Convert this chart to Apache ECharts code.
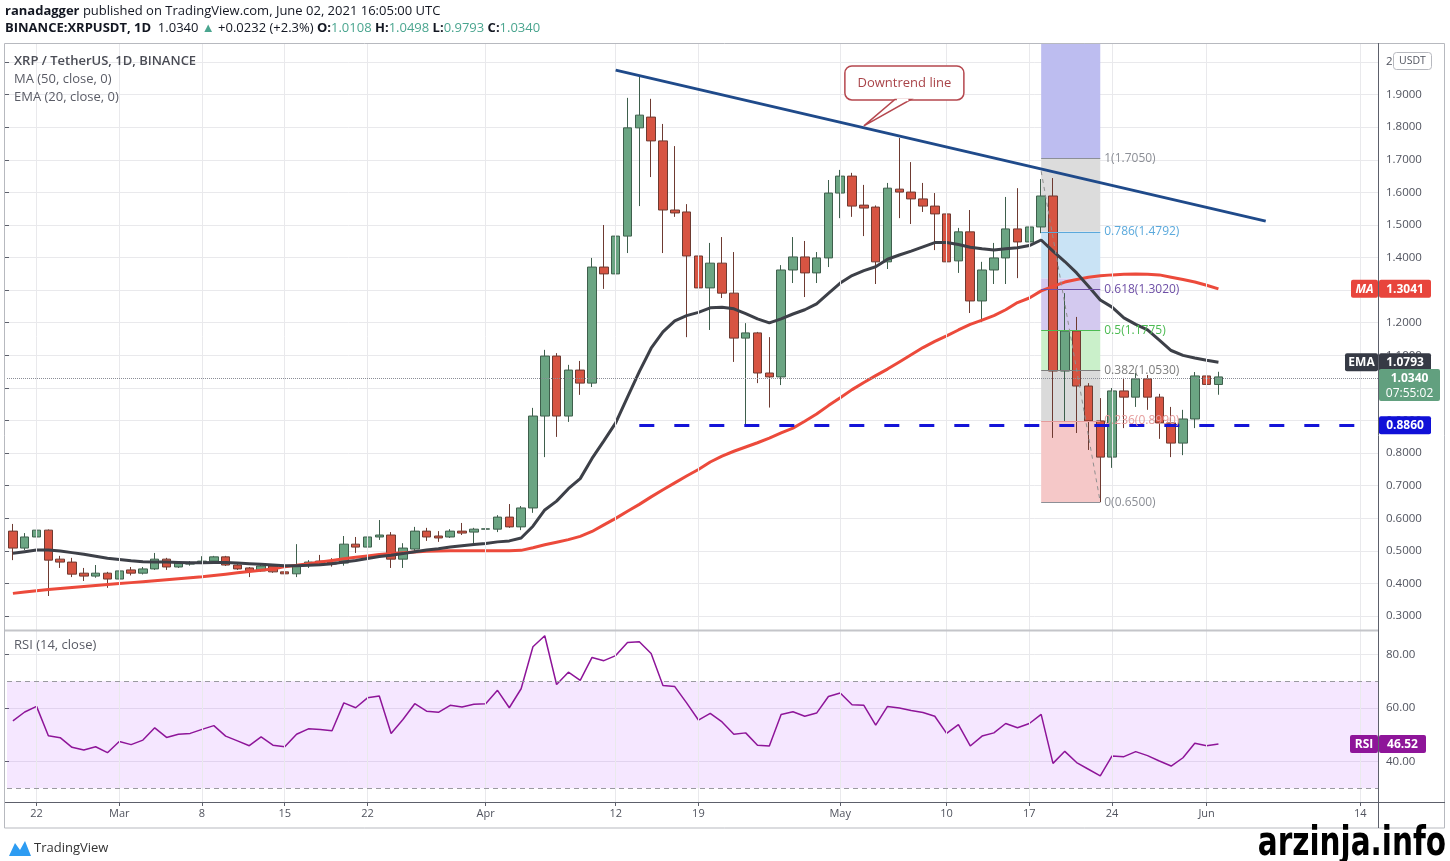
<!DOCTYPE html>
<html>
<head>
<meta charset="utf-8">
<title>XRP / TetherUS, 1D, BINANCE</title>
<script src="https://cdn.jsdelivr.net/npm/echarts@6.0.0/dist/echarts.min.js"></script>
<style>
    html, body { margin: 0; padding: 0; background: #fff; }
    #xrp { width: 1450px; height: 861px; }
</style>
</head>
<body>
<div id="xrp"></div>
<script>
// daily categories, Feb 20 .. Jun 15 2021
var dates = [];
var day0 = Date.UTC(2021, 1, 20);
for (var k = 0; k < 116; k++) {
    dates.push(new Date(day0 + k * 86400000).toISOString().slice(0, 10));
}

var tickDates = ['2021-02-22', '2021-03-01', '2021-03-08', '2021-03-15', '2021-03-22', '2021-04-01', '2021-04-12',
    '2021-04-19', '2021-05-01', '2021-05-10', '2021-05-17', '2021-05-24', '2021-06-01', '2021-06-14'];
var tickLabels = ['22', 'Mar', '8', '15', '22', 'Apr', '12', '19', 'May', '10', '17', '24', 'Jun', '14'];

// [open, close, low, high]
var candles = [
    [0.561, 0.509, 0.472, 0.583], [0.509, 0.543, 0.503, 0.555], [0.543, 0.564, 0.540, 0.650], [0.564, 0.472, 0.362, 0.566],
    [0.475, 0.466, 0.448, 0.485], [0.466, 0.429, 0.420, 0.479], [0.432, 0.423, 0.408, 0.448], [0.423, 0.432, 0.418, 0.457],
    [0.432, 0.414, 0.387, 0.436],
    [0.414, 0.439, 0.410, 0.451], [0.442, 0.432, 0.425, 0.451], [0.432, 0.445, 0.428, 0.451], [0.445, 0.475, 0.442, 0.494],
    [0.475, 0.451, 0.442, 0.479], [0.451, 0.463, 0.448, 0.466], [0.460, 0.461, 0.455, 0.469],
    [0.463, 0.469, 0.460, 0.484], [0.469, 0.482, 0.466, 0.485], [0.482, 0.457, 0.454, 0.485], [0.457, 0.445, 0.442, 0.460],
    [0.448, 0.439, 0.420, 0.451], [0.439, 0.454, 0.436, 0.463], [0.454, 0.436, 0.433, 0.457],
    [0.436, 0.430, 0.420, 0.445], [0.430, 0.454, 0.420, 0.521], [0.457, 0.466, 0.448, 0.472], [0.469, 0.463, 0.455, 0.488],
    [0.466, 0.460, 0.452, 0.478], [0.463, 0.521, 0.455, 0.546], [0.521, 0.512, 0.494, 0.543],
    [0.512, 0.543, 0.497, 0.595], [0.543, 0.549, 0.534, 0.595], [0.549, 0.475, 0.448, 0.558], [0.475, 0.509, 0.448, 0.524],
    [0.506, 0.561, 0.500, 0.574], [0.561, 0.543, 0.531, 0.571], [0.546, 0.540, 0.528, 0.561],
    [0.543, 0.561, 0.540, 0.567], [0.561, 0.555, 0.549, 0.586], [0.558, 0.567, 0.524, 0.571],
    [0.567, 0.568, 0.543, 0.595], [0.567, 0.604, 0.558, 0.610], [0.604, 0.574, 0.571, 0.644], [0.574, 0.632, 0.564, 0.638],
    [0.632, 0.914, 0.617, 0.939], [0.914, 1.098, 0.788, 1.117], [1.098, 0.914, 0.850, 1.107], [0.914, 1.055, 0.896, 1.071],
    [1.055, 1.015, 0.979, 1.083], [1.015, 1.371, 1.003, 1.399], [1.371, 1.350, 1.304, 1.500],
    [1.350, 1.466, 1.313, 1.470], [1.466, 1.798, 1.414, 1.890], [1.798, 1.837, 1.558, 1.960], [1.831, 1.758, 1.647, 1.887],
    [1.758, 1.546, 1.414, 1.810], [1.546, 1.537, 1.525, 1.742], [1.540, 1.405, 1.156, 1.564],
    [1.405, 1.307, 1.248, 1.537], [1.307, 1.383, 1.178, 1.445], [1.383, 1.291, 1.276, 1.463], [1.291, 1.153, 1.080, 1.417],
    [1.153, 1.169, 0.886, 1.199], [1.169, 1.046, 1.015, 1.172], [1.046, 1.034, 0.940, 1.156],
    [1.034, 1.362, 1.009, 1.377], [1.362, 1.402, 1.322, 1.463], [1.402, 1.353, 1.279, 1.451], [1.353, 1.399, 1.322, 1.417],
    [1.399, 1.598, 1.371, 1.638],
    [1.598, 1.650, 1.521, 1.669], [1.650, 1.558, 1.525, 1.660], [1.561, 1.552, 1.466, 1.623], [1.555, 1.387, 1.319, 1.560],
    [1.387, 1.613, 1.365, 1.629], [1.610, 1.601, 1.521, 1.767], [1.601, 1.580, 1.503, 1.693], [1.580, 1.558, 1.540, 1.629],
    [1.558, 1.534, 1.423, 1.598],
    [1.534, 1.387, 1.212, 1.626], [1.390, 1.479, 1.353, 1.491], [1.479, 1.267, 1.230, 1.546], [1.267, 1.362, 1.202, 1.387],
    [1.362, 1.399, 1.319, 1.445], [1.399, 1.488, 1.319, 1.586], [1.488, 1.448, 1.337, 1.613],
    [1.448, 1.494, 1.322, 1.564], [1.494, 1.589, 1.475, 1.641], [1.589, 1.052, 0.847, 1.644], [1.052, 1.175, 0.896, 1.291],
    [1.175, 1.006, 0.862, 1.218], [1.006, 0.899, 0.810, 1.015], [0.899, 0.788, 0.650, 0.969],
    [0.788, 0.991, 0.755, 1.000], [0.991, 0.972, 0.877, 1.031], [0.972, 1.028, 0.942, 1.046], [1.028, 0.972, 0.933, 1.040],
    [0.972, 0.893, 0.844, 0.982], [0.893, 0.831, 0.788, 0.942], [0.831, 0.905, 0.794, 0.933], [0.905, 1.037, 0.877, 1.049],
    [1.037, 1.011, 0.972, 1.101], [1.0108, 1.0340, 0.9793, 1.0498]
];

var ma50 = [
    0.370, 0.374, 0.378, 0.382, 0.385, 0.388, 0.391, 0.394, 0.397,
    0.400, 0.403, 0.406, 0.409, 0.412, 0.415, 0.418,
    0.421, 0.425, 0.429, 0.433, 0.437, 0.441, 0.445,
    0.452, 0.456, 0.461, 0.466, 0.471, 0.476, 0.481,
    0.485, 0.489, 0.492, 0.495, 0.497, 0.499, 0.500,
    0.501, 0.501, 0.501,
    0.501, 0.501, 0.501, 0.502,
    0.510, 0.519, 0.527, 0.535, 0.545, 0.560, 0.580,
    0.600, 0.622, 0.643, 0.666, 0.688, 0.709, 0.730,
    0.750, 0.773, 0.791, 0.806, 0.819, 0.832, 0.846,
    0.862, 0.877, 0.898, 0.920, 0.946,
    0.970, 0.995, 1.017, 1.038, 1.058, 1.080, 1.102, 1.124, 1.143,
    1.160, 1.178, 1.195, 1.208, 1.222, 1.240, 1.262,
    1.276, 1.298, 1.312, 1.325, 1.333, 1.340, 1.344,
    1.347, 1.349, 1.350, 1.349, 1.347, 1.340, 1.333, 1.325,
    1.315, 1.3041
];

var ema20 = [
    0.493, 0.498, 0.503, 0.503, 0.500, 0.495, 0.490, 0.484, 0.478,
    0.474, 0.470, 0.467, 0.466, 0.466, 0.465, 0.464,
    0.464, 0.465, 0.465, 0.463, 0.461, 0.459, 0.457,
    0.455, 0.455, 0.456, 0.458, 0.461, 0.466, 0.471,
    0.477, 0.483, 0.487, 0.492, 0.498, 0.503, 0.507,
    0.512, 0.516, 0.520,
    0.523, 0.528, 0.531, 0.540,
    0.576, 0.626, 0.653, 0.691, 0.722, 0.784, 0.838,
    0.893, 0.972, 1.050, 1.122, 1.172, 1.206, 1.222,
    1.232, 1.246, 1.248, 1.243, 1.228, 1.212, 1.200,
    1.212, 1.227, 1.240, 1.258, 1.290,
    1.322, 1.345, 1.360, 1.372, 1.395, 1.408, 1.420, 1.433, 1.446,
    1.446, 1.440, 1.432, 1.427, 1.423, 1.427, 1.430,
    1.437, 1.454, 1.420, 1.388, 1.353, 1.312, 1.270,
    1.248, 1.215, 1.195, 1.178, 1.147, 1.115, 1.100, 1.092,
    1.085, 1.0793
];

var rsi14 = [
    55.2, 58.5, 60.6, 49.6, 48.9, 45.3, 44.3, 45.5, 43.3,
    47.5, 46.3, 48.0, 52.6, 49.0, 50.2, 50.5,
    52.0, 53.4, 49.5, 47.7, 45.9, 49.2, 46.1,
    45.5, 50.2, 52.2, 52.0, 51.5, 61.9, 60.1,
    63.8, 64.5, 50.5, 55.7, 61.6, 58.8, 58.4,
    61.0, 60.4, 61.4,
    61.6, 66.6, 60.1, 67.2,
    82.9, 87.0, 68.8, 73.4, 70.3, 78.9, 77.7,
    79.6, 84.5, 84.8, 80.4, 68.4, 68.0, 61.9,
    55.5, 58.0, 54.8, 50.2, 50.7, 46.1, 45.8,
    57.6, 58.6, 56.9, 58.1, 64.3,
    65.6, 61.2, 61.0, 53.6, 60.6, 60.0, 59.1, 58.3, 56.9,
    50.5, 53.8, 45.8, 49.5, 50.7, 54.2, 52.6,
    54.2, 57.6, 39.3, 43.8, 39.6, 37.1, 34.6,
    42.1, 41.8, 43.7, 42.2, 40.2, 38.3, 41.4, 46.8,
    45.9, 46.52
];

// fibonacci retracement drawn from May 18 to May 23
var fibFrom = '2021-05-18';
var fibTo = '2021-05-23';
var fibRatios = ['1', '0.786', '0.618', '0.5', '0.382', '0.236', '0'];
var fibPrices = [1.7050, 1.4792, 1.3020, 1.1775, 1.0530, 0.8990, 0.6500];
var fibBandEdges = [2.0583, 1.7050, 1.4792, 1.3358, 1.1775, 1.0530, 0.8990, 0.6500];
var fibSwing = [['2021-05-18', 1.665], ['2021-05-23', 0.650]];

var trendLine = [['2021-04-12', 1.975], ['2021-06-06', 1.512]];
var calloutAt = ['2021-05-03', 1.804];
var supportPrice = 0.8860;
var supportFrom = '2021-04-14';
var lastPrice = 1.0340;

// axis ranges (the data axes are calibrated to the panel pixels)
var priceAxisMin = 0.25767, priceAxisMax = 2.05828;
var rsiAxisMin = 24.86, rsiAxisMax = 88.785;

var uiFont = "'Open Sans', 'Noto Sans', sans-serif";
var upColor = '#6ba583', downColor = '#d75442';

function pickTick(index, value) {
    return tickDates.indexOf(value) > -1;
}

function gridLineMarks() {
    return tickDates.map(function(d) {
        return {xAxis: d};
    });
}

function drawXrp() {
    var dom = document.getElementById("xrp");
    var myChart = echarts.init(dom);
    var option = null;

    var fibLineColors = ['#8c8f96', '#5aa9dc', '#6e4fa6', '#4cbb52', '#7d7d7d', '#e59b9b', '#8c8f96'];
    var fibBandColors = ['#bdbdf0', '#dcdcdc', '#c9e3f5', '#d3c9ef', '#caf0ca', '#dadada', '#f5c8c8'];

    var fibAreas = [];
    for (var i = 0; i < fibBandEdges.length - 1; i++) {
        fibAreas.push([
            {coord: [fibFrom, fibBandEdges[i]], itemStyle: {color: fibBandColors[i]}},
            {coord: [fibTo, fibBandEdges[i + 1]]}
        ]);
    }

    var fibLines = fibPrices.map(function(p, i) {
        return [
            {
                coord: [fibFrom, p],
                lineStyle: {color: fibLineColors[i], width: 1, type: 'solid'},
                label: {
                    show: true,
                    position: 'end',
                    distance: 4,
                    formatter: fibRatios[i] + '(' + p.toFixed(4) + ')',
                    color: fibLineColors[i],
                    fontSize: 12,
                    fontFamily: uiFont
                }
            },
            {coord: [fibTo, p]}
        ];
    });
    fibLines.push([
        {coord: fibSwing[0], lineStyle: {color: '#8f8f8f', width: 1, type: [4, 4]}},
        {coord: fibSwing[1]}
    ]);

    option = {
        animation: false,
        backgroundColor: '#fff',
        grid: [
            {left: 7, right: 72, top: 43, height: 587, outerBoundsMode: 'none'},
            {left: 5, right: 72, top: 62, height: 554, outerBoundsMode: 'none'},
            {left: 7, right: 72, top: 631, height: 171, outerBoundsMode: 'none'},
            {left: 5, right: 72, top: 654.5, height: 107, outerBoundsMode: 'none'}
        ],
        xAxis: [
            {type: 'category', gridIndex: 0, data: dates, boundaryGap: true, show: false},
            {type: 'value', gridIndex: 1, min: 0, max: 1, show: false},
            {
                type: 'category',
                gridIndex: 2,
                data: dates,
                boundaryGap: true,
                axisLine: {show: false},
                axisTick: {
                    show: true,
                    alignWithLabel: true,
                    interval: pickTick,
                    length: 4,
                    lineStyle: {color: '#5d606b'}
                },
                axisLabel: {
                    interval: pickTick,
                    formatter: function(v) {
                        return tickLabels[tickDates.indexOf(v)];
                    },
                    color: '#50535e',
                    fontSize: 11,
                    fontFamily: uiFont,
                    margin: 6
                },
                splitLine: {show: false}
            },
            {type: 'value', gridIndex: 3, min: 0, max: 1, show: false}
        ],
        yAxis: [
            {type: 'value', gridIndex: 0, min: priceAxisMin, max: priceAxisMax, show: false},
            {
                type: 'value',
                gridIndex: 1,
                position: 'right',
                min: 0.3,
                max: 2.0,
                interval: 0.1,
                axisLine: {show: false},
                axisTick: {show: true, length: 4, lineStyle: {color: '#5d606b'}},
                axisLabel: {
                    color: '#50535e',
                    fontSize: 11.5,
                    fontFamily: uiFont,
                    margin: 8,
                    formatter: function(v) {
                        return Math.abs(v - 2) < 1e-9 ? '2' : v.toFixed(4);
                    }
                },
                splitLine: {show: true, lineStyle: {color: '#e9e9ec', width: 1}}
            },
            {type: 'value', gridIndex: 2, min: rsiAxisMin, max: rsiAxisMax, show: false},
            {
                type: 'value',
                gridIndex: 3,
                position: 'right',
                min: 40,
                max: 80,
                interval: 20,
                axisLine: {show: false},
                axisTick: {show: true, length: 4, lineStyle: {color: '#5d606b'}},
                axisLabel: {
                    color: '#50535e',
                    fontSize: 11.5,
                    fontFamily: uiFont,
                    margin: 8,
                    formatter: function(v) {
                        return v.toFixed(2);
                    }
                },
                splitLine: {show: true, lineStyle: {color: '#e9e9ec', width: 1}}
            }
        ],
        series: [
            {
                // vertical grid + fib retracement, under the candles
                name: 'fib',
                type: 'line',
                xAxisIndex: 0,
                yAxisIndex: 0,
                data: [],
                silent: true,
                z: 1,
                markArea: {silent: true, data: fibAreas},
                markLine: {
                    silent: true,
                    symbol: ['none', 'none'],
                    label: {show: false},
                    lineStyle: {color: '#e9e9ec', width: 1, type: 'solid'},
                    data: gridLineMarks().concat(fibLines)
                }
            },
            {
                name: 'XRPUSDT',
                type: 'candlestick',
                xAxisIndex: 0,
                yAxisIndex: 0,
                data: candles,
                barWidth: 9,
                z: 3,
                itemStyle: {
                    color: upColor,
                    color0: downColor,
                    borderColor: '#3e5f4c',
                    borderColor0: '#6e3a31',
                    borderWidth: 1
                }
            },
            {
                name: 'MA (50, close, 0)',
                type: 'line',
                xAxisIndex: 0,
                yAxisIndex: 0,
                data: ma50,
                showSymbol: false,
                z: 4,
                lineStyle: {color: '#ec4a3b', width: 3}
            },
            {
                name: 'EMA (20, close, 0)',
                type: 'line',
                xAxisIndex: 0,
                yAxisIndex: 0,
                data: ema20,
                showSymbol: false,
                z: 4,
                lineStyle: {color: '#3d4048', width: 3}
            },
            {
                // drawings on top
                name: 'drawings',
                type: 'line',
                xAxisIndex: 0,
                yAxisIndex: 0,
                data: [],
                silent: true,
                z: 5,
                markLine: {
                    silent: true,
                    symbol: ['none', 'none'],
                    label: {show: false},
                    data: [
                        {yAxis: lastPrice, lineStyle: {color: '#8a8d96', width: 1, type: 'dotted'}},
                        [
                            {coord: [supportFrom, supportPrice], lineStyle: {color: '#1414d8', width: 3, type: [15, 20]}},
                            {coord: [dates[dates.length - 1], supportPrice]}
                        ],
                        [
                            {coord: trendLine[0], lineStyle: {color: '#1f4a8a', width: 3, type: 'solid'}},
                            {coord: trendLine[1]}
                        ]
                    ]
                }
            },
            {
                name: 'rsi band',
                type: 'line',
                xAxisIndex: 2,
                yAxisIndex: 2,
                data: [],
                silent: true,
                z: 1,
                markArea: {
                    silent: true,
                    itemStyle: {color: 'rgba(153, 21, 255, 0.1)'},
                    data: [[{yAxis: 30}, {yAxis: 70}]]
                },
                markLine: {
                    silent: true,
                    symbol: ['none', 'none'],
                    label: {show: false},
                    lineStyle: {color: '#e9e9ec', width: 1, type: 'solid'},
                    data: gridLineMarks().concat([
                        {yAxis: 70, lineStyle: {color: '#9a9aa0', width: 1, type: [5, 4]}},
                        {yAxis: 30, lineStyle: {color: '#9a9aa0', width: 1, type: [5, 4]}}
                    ])
                }
            },
            {
                name: 'RSI (14, close)',
                type: 'line',
                xAxisIndex: 2,
                yAxisIndex: 2,
                data: rsi14,
                showSymbol: false,
                z: 3,
                lineStyle: {color: '#8e1599', width: 1.5}
            }
        ]
    };
    myChart.setOption(option);

    // overlay: header, frame, axis badges, callout
    var yMA = myChart.convertToPixel({yAxisIndex: 0}, ma50[ma50.length - 1]);
    var yEMA = myChart.convertToPixel({yAxisIndex: 0}, ema20[ema20.length - 1]);
    var yLast = myChart.convertToPixel({yAxisIndex: 0}, lastPrice);
    var ySup = myChart.convertToPixel({yAxisIndex: 0}, supportPrice);
    var yRsi = myChart.convertToPixel({yAxisIndex: 2}, rsi14[rsi14.length - 1]);
    var tip = myChart.convertToPixel({seriesIndex: 1}, [dates.indexOf(calloutAt[0]), calloutAt[1]]);

    var boldFont = 'bold 12px ' + uiFont;
    function badge(x, y, w, h, fill, text, font) {
        return [
            {type: 'rect', z: 100, shape: {x: x, y: y - h / 2, width: w, height: h, r: 2}, style: {fill: fill}},
            {
                type: 'text', z: 101, x: x + w / 2, y: y + 0.5,
                style: {text: text, fill: '#fff', align: 'center', verticalAlign: 'middle', font: font || boldFont}
            }
        ];
    }

    var els = [
        // frame
        {type: 'rect', z: 90, shape: {x: 4.5, y: 43.5, width: 1440, height: 784.5}, style: {fill: 'none', stroke: '#b7b9bf', lineWidth: 1}},
        {type: 'line', z: 90, shape: {x1: 5, y1: 630.5, x2: 1378, y2: 630.5}, style: {stroke: '#c4c5c9', lineWidth: 2}},
        {type: 'line', z: 90, shape: {x1: 1378.5, y1: 43, x2: 1378.5, y2: 828}, style: {stroke: '#5d606b', lineWidth: 1}},
        {type: 'line', z: 90, shape: {x1: 5, y1: 802.5, x2: 1445, y2: 802.5}, style: {stroke: '#5d606b', lineWidth: 1}},
        // header
        {
            type: 'text', z: 100, x: 5, y: 11,
            style: {
                text: '{b|ranadagger} published on TradingView.com, June 02, 2021 16:05:00 UTC',
                verticalAlign: 'middle', fill: '#131722', font: '13px ' + uiFont,
                rich: {b: {fontWeight: 'bold', fontSize: 13, fontFamily: uiFont, fill: '#131722'}}
            }
        },
        {
            type: 'text', z: 100, x: 5, y: 28,
            style: {
                text: '{b|BINANCE:XRPUSDT, 1D}  1.0340 {g|▲} +0.0232 (+2.3%) {b|O:}{g|1.0108} {b|H:}{g|1.0498} {b|L:}{g|0.9793} {b|C:}{g|1.0340}',
                verticalAlign: 'middle', fill: '#131722', font: '13px ' + uiFont,
                rich: {
                    b: {fontWeight: 'bold', fontSize: 13, fontFamily: uiFont, fill: '#131722'},
                    g: {fontSize: 13, fontFamily: uiFont, fill: '#4aa58f'}
                }
            }
        },
        // pane legends
        {type: 'text', z: 100, x: 14, y: 61, style: {text: 'XRP / TetherUS, 1D, BINANCE', verticalAlign: 'middle', fill: '#4a4c55', font: '600 13px ' + uiFont}},
        {type: 'text', z: 100, x: 14, y: 79, style: {text: 'MA (50, close, 0)', verticalAlign: 'middle', fill: '#5a5c66', font: '13px ' + uiFont}},
        {type: 'text', z: 100, x: 14, y: 97, style: {text: 'EMA (20, close, 0)', verticalAlign: 'middle', fill: '#5a5c66', font: '13px ' + uiFont}},
        {type: 'text', z: 100, x: 14, y: 645, style: {text: 'RSI (14, close)', verticalAlign: 'middle', fill: '#5a5c66', font: '13px ' + uiFont}},
        // USDT unit box
        {type: 'rect', z: 100, shape: {x: 1393.5, y: 52.5, width: 38, height: 17, r: 3}, style: {fill: '#fff', stroke: '#b7b9bf', lineWidth: 1}},
        {type: 'text', z: 101, x: 1412.5, y: 61.5, style: {text: 'USDT', align: 'center', verticalAlign: 'middle', fill: '#50535e', font: '10.5px ' + uiFont}},
        // callout
        {type: 'rect', z: 100, shape: {x: tip[0] - 19, y: tip[1] - 60, width: 119, height: 34, r: 7}, style: {fill: '#fff', stroke: '#b5474e', lineWidth: 1.5}},
        {type: 'polygon', z: 100, shape: {points: [[tip[0] + 31, tip[1] - 26.5], [tip[0] + 47, tip[1] - 26.5], [tip[0], tip[1]]]}, style: {fill: '#fff', stroke: '#b5474e', lineWidth: 1.5}},
        {type: 'line', z: 101, shape: {x1: tip[0] + 33, y1: tip[1] - 26, x2: tip[0] + 44.5, y2: tip[1] - 26}, style: {stroke: '#fff', lineWidth: 2.5}},
        {type: 'text', z: 102, x: tip[0] + 40.5, y: tip[1] - 43, style: {text: 'Downtrend line', align: 'center', verticalAlign: 'middle', fill: '#a94449', font: '13px ' + uiFont}},
        // bottom branding
        {type: 'polygon', z: 100, shape: {points: [[9, 856], [15, 843], [20, 850], [25, 841], [31, 856]]}, style: {fill: '#2d9cf2'}},
        {type: 'text', z: 100, x: 34, y: 848, style: {text: 'TradingView', verticalAlign: 'middle', fill: '#333', font: '13px ' + uiFont}},
        {
            type: 'text', z: 100, x: 1446, y: 845, scaleX: 0.82,
            style: {
                text: 'arzinja.info', align: 'right', verticalAlign: 'middle', fill: '#000',
                font: "bold 40px 'Liberation Sans Narrow', 'DejaVu Sans Condensed', sans-serif"
            }
        }
    ];

    els = els.concat(
        badge(1351, yMA, 27, 18, '#e8453c', 'MA', 'bold italic 12px ' + uiFont),
        badge(1379, yMA, 52, 18, '#e8453c', ma50[ma50.length - 1].toFixed(4)),
        badge(1345, yEMA, 33, 18, '#363a45', 'EMA'),
        badge(1379, yEMA, 52, 18, '#363a45', ema20[ema20.length - 1].toFixed(4)),
        badge(1379, ySup, 52, 18, '#1010d8', supportPrice.toFixed(4)),
        badge(1350, yRsi, 28, 18, '#8e1599', 'RSI'),
        badge(1379, yRsi, 47, 18, '#8e1599', rsi14[rsi14.length - 1].toFixed(2))
    );
    els.push(
        {type: 'rect', z: 100, shape: {x: 1379, y: yLast - 8, width: 61, height: 32, r: 2}, style: {fill: '#62a07f'}},
        {type: 'text', z: 101, x: 1409.5, y: yLast + 1.5, style: {text: lastPrice.toFixed(4), fill: '#fff', align: 'center', verticalAlign: 'middle', font: boldFont}},
        {type: 'text', z: 101, x: 1409.5, y: yLast + 16.5, style: {text: '07:55:02', fill: '#fff', align: 'center', verticalAlign: 'middle', font: '12px ' + uiFont}}
    );

    myChart.setOption({graphic: {elements: els}});
}

drawXrp();
</script>
</body>
</html>
